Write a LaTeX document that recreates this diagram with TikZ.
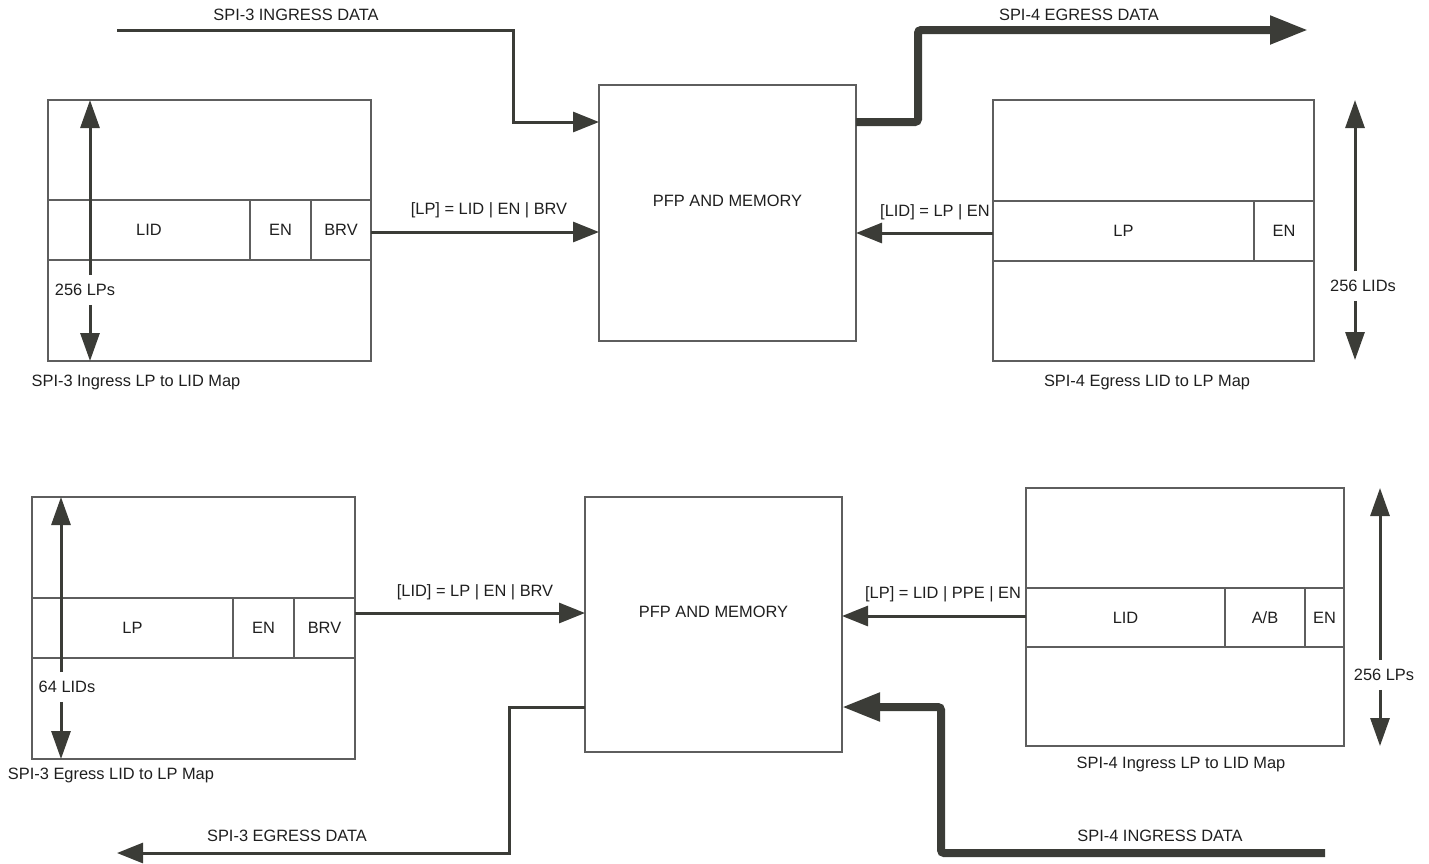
\documentclass[tikz,border=0pt]{standalone}
\usepackage{fontspec}
\setmainfont{Liberation Sans}
\usepackage{xcolor}
\usetikzlibrary{arrows.meta,positioning,calc}
\definecolor{flowgray}{HTML}{3B3C37}
\definecolor{boxgray}{HTML}{5E5E5E}

\begin{document}
\begin{tikzpicture}[
    x=1pt, y=-1pt,
    every node/.style={font=\fontsize{16.4}{19}\selectfont, text=black!88, inner sep=0pt, outer sep=0pt},
    mapbox/.style={draw=boxgray, line width=1.2pt, anchor=north west},
    cell/.style={draw=boxgray, line width=1.2pt, minimum height=#1},
    cell/.default=60pt,
    pfpbox/.style={draw=boxgray, line width=1.2pt, minimum width=257pt, anchor=north west},
    thinflow/.style={draw=flowgray, line width=3pt, -{Triangle[length=26pt,width=20pt]}},
    thickflow/.style={draw=flowgray, line width=8pt, rounded corners=3pt, -{Triangle[length=38pt,width=27pt]}},
    sizearrow/.style={draw=flowgray, line width=3pt, shorten <=9pt, -{Triangle[length=28pt,width=19pt]}},
]
\useasboundingbox (0,0) rectangle (1429,863);

\node[pfpbox, minimum height=256pt] (pfpA) at (599,85) {};
\node (pfpAtxt) at ([yshift=12pt]pfpA.center) {PFP AND MEMORY};
\node[pfpbox, minimum height=255pt] (pfpB) at (585,497) {};
\node (pfpBtxt) at ([yshift=12.5pt]pfpB.center) {PFP AND MEMORY};

\node[mapbox, minimum width=323pt, minimum height=261pt] (mapA) at (48,100) {};
\node[cell, minimum width=202pt, anchor=north west] (lidA) at (48,200) {LID};
\node[cell, minimum width=61pt, right=0pt of lidA] (enA) {EN};
\node[cell, minimum width=60pt, right=0pt of enA] (brvA) {BRV};
\node (capA) at (136,382) {SPI-3 Ingress LP to LID Map};
\node (sizeA) at (85,290) {256 LPs};
\coordinate (sizeAtop) at (90,100);
\coordinate (sizeAbot) at (90,361);
\draw[sizearrow] (sizeA.north -| sizeAtop) -- (sizeAtop);
\draw[sizearrow] (sizeA.south -| sizeAbot) -- (sizeAbot);

\node[mapbox, minimum width=321pt, minimum height=261pt] (mapC) at (993,100) {};
\node[cell, minimum width=261pt, anchor=north west] (lpC) at (993,201) {LP};
\node[cell, minimum width=60pt, right=0pt of lpC] (enC) {EN};
\node (capC) at (1147,382) {SPI-4 Egress LID to LP Map};
\node (sizeC) at (1363,286) {256 LIDs};
\coordinate (sizeCtop) at (1355,100);
\coordinate (sizeCbot) at (1355,360);
\draw[sizearrow] (sizeC.north -| sizeCtop) -- (sizeCtop);
\draw[sizearrow] (sizeC.south -| sizeCbot) -- (sizeCbot);

\node[mapbox, minimum width=323pt, minimum height=262pt] (mapB) at (32,497) {};
\node[cell, minimum width=201pt, anchor=north west] (lpB) at (32,598) {LP};
\node[cell, minimum width=61pt, right=0pt of lpB] (enB) {EN};
\node[cell, minimum width=61pt, right=0pt of enB] (brvB) {BRV};
\node (capB) at (111,775) {SPI-3 Egress LID to LP Map};
\node (sizeB) at (67,687) {64 LIDs};
\coordinate (sizeBtop) at (61,497);
\coordinate (sizeBbot) at (61,759);
\draw[sizearrow] (sizeB.north -| sizeBtop) -- (sizeBtop);
\draw[sizearrow] (sizeB.south -| sizeBbot) -- (sizeBbot);

\node[mapbox, minimum width=318pt, minimum height=258pt] (mapD) at (1026,488) {};
\node[cell=59pt, minimum width=199pt, anchor=north west] (lidD) at (1026,588) {LID};
\node[cell=59pt, minimum width=80pt, right=0pt of lidD] (abD) {A/B};
\node[cell=59pt, minimum width=39pt, right=0pt of abD] (enD) {EN};
\node (capD) at (1181,764) {SPI-4 Ingress LP to LID Map};
\node (sizeD) at (1384,675) {256 LPs};
\coordinate (sizeDtop) at (1380,488);
\coordinate (sizeDbot) at (1380,746);
\draw[sizearrow] (sizeD.north -| sizeDtop) -- (sizeDtop);
\draw[sizearrow] (sizeD.south -| sizeDbot) -- (sizeDbot);

\coordinate (pinA) at ([yshift=-19pt]pfpA.west);
\draw[thinflow] (brvA.east |- pinA) -- (pinA);
\node (fieldA) at (489,210) {[LP] = LID \textbar{} EN \textbar{} BRV};
\coordinate (poutA) at ([yshift=-20pt]pfpA.east);
\draw[thinflow] (lpC.west |- poutA) -- (poutA);
\node (fieldC) at (935,212) {[LID] = LP \textbar{} EN};

\coordinate (pinB) at ([yshift=11.5pt]pfpB.west);
\draw[thinflow] (brvB.east |- pinB) -- (pinB);
\node (fieldB) at (475,592) {[LID] = LP \textbar{} EN \textbar{} BRV};
\coordinate (poutB) at ([yshift=8.5pt]pfpB.east);
\draw[thinflow] (lidD.west |- poutB) -- (poutB);
\node (fieldD) at (943,594) {[LP] = LID \textbar{} PPE \textbar{} EN};

\coordinate (inA) at (117,30);
\draw[thinflow] (inA) -- ++(396,0) |- ([yshift=-37pt]pfpA.north west);
\node (inAlbl) at (296,15) {SPI-3 INGRESS DATA};
\coordinate (outA) at (1308,30);
\draw[thickflow] ([yshift=-37pt]pfpA.north east) -- ++(62,0) |- (outA);
\node (outAlbl) at (1079,15) {SPI-4 EGRESS DATA};

\coordinate (outB) at (117,853);
\draw[thinflow] ([yshift=-82.5pt]pfpB.west) -- ++(-76,0) |- (outB);
\node (outBlbl) at (287,836) {SPI-3 EGRESS DATA};
\coordinate (inB) at (1325,853);
\draw[thickflow] (inB) -- ++(-384,0) |- ([yshift=-82.5pt]pfpB.east);
\node (inBlbl) at (1160,836) {SPI-4 INGRESS DATA};
\end{tikzpicture}
\end{document}
